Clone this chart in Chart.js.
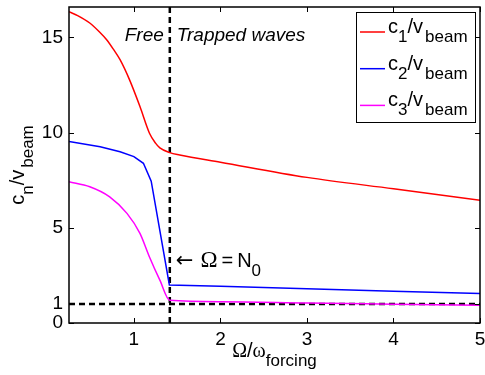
<!DOCTYPE html>
<html lang="en">
<head>
<meta charset="UTF-8">
<title>Phase speed vs forcing frequency</title>
<script src="https://cdn.jsdelivr.net/npm/chart.js"></script>
<style>
  html, body { margin: 0; padding: 0; background: #fff; }
  canvas { display: block; }
</style>
</head>
<body>
<canvas id="chart" width="485" height="375"></canvas>
<script>
// values
const c1X = [0.25, 0.35, 0.49, 0.6, 0.685, 0.76, 0.84, 0.95, 1.07, 1.18, 1.25, 1.30, 1.415, 1.53, 2, 3, 4, 5];
const c1Y = [16.35, 16.15, 15.76, 15.3, 14.88, 14.4, 13.83, 12.77, 11.37, 9.97, 9.45, 9.2, 8.95, 8.83, 8.45, 7.65, 7.05, 6.45];
const c2X = [0.25, 0.61, 0.84, 1.0, 1.11, 1.2, 1.41, 2, 3, 4, 5];
const c2Y = [9.53, 9.26, 9.0, 8.74, 8.39, 7.45, 2.0, 1.93, 1.80, 1.67, 1.55];
const c3X = [0.25, 0.49, 0.72, 0.92, 1.07, 1.18, 1.30, 1.415, 2, 3, 4, 5];
const c3Y = [7.42, 7.16, 6.63, 5.76, 4.71, 3.47, 2.25, 1.19, 1.12, 1.05, 0.99, 0.93];
const N0 = 1.415;          // Omega = N0 (vertical dashed line)
const refLevel = 1;        // horizontal dashed line
const xTicks = [1, 2, 3, 4, 5];
const yTicks = [0, 1, 5, 10, 15];
const xRange = [0.25, 5];
const yRange = [0, 16.6];

const FONT = '"Liberation Sans", Arial, Helvetica, sans-serif';
const SERIF = '"Liberation Serif", "Times New Roman", serif';

function pts(xs, ys) {
    return xs.map((x, i) => ({ x: x, y: ys[i] }));
}

// text made of pieces: normal, subscript, serif greek
function fontOf(p) {
    if (p.sub) return '17px ' + FONT;
    if (p.family) return (p.size || 20) + 'px ' + p.family;
    if (p.serif) return (p.size || 20) + 'px ' + SERIF;
    return (p.size || 20) + 'px ' + FONT;
}
function richWidth(ctx, parts) {
    let w = 0;
    parts.forEach(p => {
        ctx.font = fontOf(p);
        w += ctx.measureText(p.t).width + (p.gap || 0);
    });
    return w;
}
function drawRich(ctx, parts, x, y, align) {
    let cx = align === 'center' ? x - richWidth(ctx, parts) / 2 : x;
    ctx.textAlign = 'left';
    ctx.textBaseline = 'alphabetic';
    parts.forEach(p => {
        ctx.font = fontOf(p);
        ctx.fillText(p.t, cx, p.sub ? y + 9 : y);
        cx += ctx.measureText(p.t).width + (p.gap || 0);
    });
}

const decorPlugin = {
    id: 'decor',
    afterDatasetsDraw(chart) {
        const ctx = chart.ctx;
        const a = chart.chartArea;
        const xs = chart.scales.x, ys = chart.scales.y;
        ctx.save();
        ctx.fillStyle = '#000';
        ctx.strokeStyle = '#000';

        // frame
        ctx.lineWidth = 1.5;
        ctx.strokeRect(a.left, a.top, a.right - a.left, a.bottom - a.top);

        // inward ticks on all four sides
        ctx.lineWidth = 1;
        ctx.beginPath();
        xTicks.forEach(v => {
            const px = Math.round(xs.getPixelForValue(v)) + 0.5;
            ctx.moveTo(px, a.bottom); ctx.lineTo(px, a.bottom - 5);
            ctx.moveTo(px, a.top); ctx.lineTo(px, a.top + 5);
        });
        yTicks.forEach(v => {
            const py = Math.round(ys.getPixelForValue(v)) + 0.5;
            ctx.moveTo(a.left, py); ctx.lineTo(a.left + 5, py);
            ctx.moveTo(a.right, py); ctx.lineTo(a.right - 5, py);
        });
        ctx.stroke();

        // region labels
        ctx.font = 'italic 19px ' + FONT;
        ctx.textBaseline = 'alphabetic';
        const vx = xs.getPixelForValue(N0);
        ctx.textAlign = 'right';
        ctx.fillText('Free', vx - 6, 41);
        ctx.textAlign = 'left';
        ctx.fillText('Trapped waves', vx + 7, 41);

        // Omega = N0 annotation
        drawRich(ctx, [
            { t: '\u2190', family: '"DejaVu Sans"', size: 21, gap: 7 },
            { t: '\u03A9', serif: true, size: 23, gap: 4 },
            { t: '=', gap: 4 },
            { t: 'N' },
            { t: '0', sub: true }
        ], vx + 6, 267, 'left');

        // axis titles
        drawRich(ctx, [{ t: '\u03A9', serif: true }, { t: '/' }, { t: '\u03C9', serif: true }, { t: 'forcing', sub: true }],
            (a.left + a.right) / 2, 357, 'center');
        ctx.save();
        ctx.translate(24, (a.top + a.bottom) / 2);
        ctx.rotate(-Math.PI / 2);
        drawRich(ctx, [{ t: 'c' }, { t: 'n', sub: true }, { t: '/v', gap: 2 }, { t: 'beam', sub: true }], 0, 0, 'center');
        ctx.restore();

        // legend
        ctx.fillStyle = '#fff';
        ctx.fillRect(356, 12, 120, 111);
        ctx.lineWidth = 1;
        ctx.strokeStyle = '#000';
        ctx.strokeRect(356.5, 12.5, 119, 110);
        const entries = [['1', '#ff0000'], ['2', '#0000ff'], ['3', '#ff00ff']];
        entries.forEach((e, i) => {
            const ly = 32 + i * 36.7;
            ctx.strokeStyle = e[1];
            ctx.lineWidth = 1.5;
            ctx.beginPath();
            ctx.moveTo(360, ly); ctx.lineTo(385, ly);
            ctx.stroke();
            ctx.fillStyle = '#000';
            drawRich(ctx, [{ t: 'c' }, { t: e[0], sub: true }, { t: '/v', gap: 2 }, { t: 'beam', sub: true }], 388, ly + 1, 'left');
        });
        ctx.restore();
    }
};

const dashStyle = { borderColor: '#000', borderWidth: 2.5, borderDash: [6, 4], pointRadius: 0, showLine: true, fill: false };

new Chart(document.getElementById('chart').getContext('2d'), {
    type: 'scatter',
    data: {
        datasets: [
            { label: 'c1/vbeam', data: pts(c1X, c1Y), borderColor: '#ff0000', borderWidth: 1.5, pointRadius: 0, showLine: true, cubicInterpolationMode: 'monotone' },
            { label: 'c2/vbeam', data: pts(c2X, c2Y), borderColor: '#0000ff', borderWidth: 1.5, pointRadius: 0, showLine: true },
            { label: 'c3/vbeam', data: pts(c3X, c3Y), borderColor: '#ff00ff', borderWidth: 1.5, pointRadius: 0, showLine: true, cubicInterpolationMode: 'monotone' },
            Object.assign({ label: 'N0', data: [{ x: N0, y: yRange[0] }, { x: N0, y: yRange[1] }] }, dashStyle),
            Object.assign({ label: 'level', data: [{ x: xRange[0], y: refLevel }, { x: xRange[1], y: refLevel }] }, dashStyle)
        ]
    },
    options: {
        responsive: false,
        animation: false,
        layout: { padding: { left: 0, right: 5, top: 7, bottom: 0 } },
        plugins: { legend: { display: false }, tooltip: { enabled: false } },
        scales: {
            x: {
                type: 'linear',
                min: xRange[0], max: xRange[1],
                grid: { display: false, drawTicks: false },
                border: { display: false },
                ticks: { color: '#000', font: { family: FONT, size: 19 }, padding: 5, autoSkip: false, maxRotation: 0 },
                afterBuildTicks: s => { s.ticks = xTicks.map(v => ({ value: v })); },
                afterFit: s => { s.height = 52; s.paddingLeft = 0; s.paddingRight = 0; }
            },
            y: {
                min: yRange[0], max: yRange[1],
                grid: { display: false, drawTicks: false },
                border: { display: false },
                ticks: { color: '#000', font: { family: FONT, size: 19 }, padding: 6, autoSkip: false },
                afterBuildTicks: s => { s.ticks = yTicks.map(v => ({ value: v })); },
                afterFit: s => { s.width = 69; s.paddingTop = 0; s.paddingBottom = 0; }
            }
        }
    },
    plugins: [decorPlugin]
});
</script>
</body>
</html>
